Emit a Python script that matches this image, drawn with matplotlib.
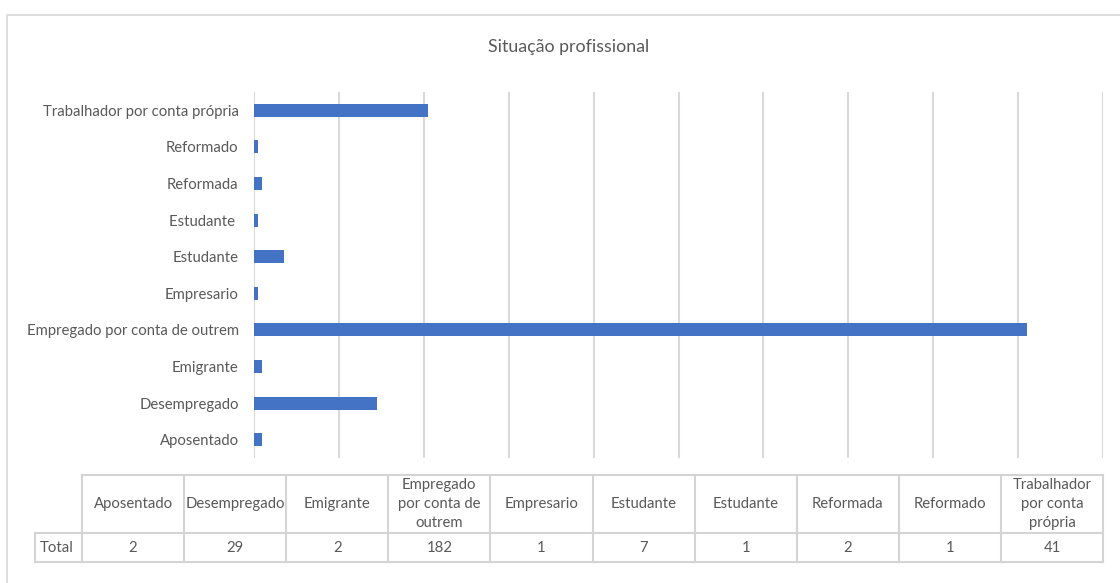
import numpy as np
import matplotlib
matplotlib.use("Agg")
import matplotlib.pyplot as plt
from matplotlib.patches import Rectangle
from matplotlib.lines import Line2D

# ---- Data ----
categories = ["Aposentado", "Desempregado", "Emigrante", "Empregado por conta de outrem",
              "Empresario", "Estudante", "Estudante ", "Reformada", "Reformado",
              "Trabalhador por conta própria"]
table_labels = ["Aposentado", "Desempregado", "Emigrante", "Empregado\npor conta de\noutrem",
                "Empresario", "Estudante", "Estudante", "Reformada", "Reformado",
                "Trabalhador\npor conta\nprópria"]
totals = [2, 29, 2, 182, 1, 7, 1, 2, 1, 41]
row_name = "Total"
title = "Situação profissional"
x_max = 200
x_step = 20

# ---- Style ----
plt.rcParams['font.family'] = ['Lato', 'DejaVu Sans']
text_col = "#595959"
bar_col = "#4472C4"
grid_col = "#D9D9D9"
fs = 10.7
W, H = 1120, 583

def fx(px):
    return px / W

def fy(py):
    return 1 - py / H

fig = plt.figure(figsize=(W / 100, H / 100), dpi=100)

# chart area border
fig.add_artist(Rectangle((fx(7), fy(590)), fx(1130) - fx(7), fy(15) - fy(590),
                         transform=fig.transFigure, fill=False, edgecolor="#D9D9D9", lw=1.2))

# ---- Bars ----
ax_l, ax_r, ax_t, ax_b = 254, 1103, 92, 458
ax = fig.add_axes([fx(ax_l), fy(ax_b), fx(ax_r) - fx(ax_l), fy(ax_t) - fy(ax_b)])
y = np.arange(len(categories))
ax.barh(y, totals, height=0.35, color=bar_col, zorder=3)
ax.set_xlim(0, x_max)
ax.set_ylim(-0.5, len(categories) - 0.5)
ax.set_xticks(np.arange(0, x_max + 1, x_step))
ax.xaxis.grid(True, color=grid_col, lw=1.5, zorder=0)
ax.tick_params(axis='x', length=0, labelbottom=False)
ax.set_yticks(y)
ax.set_yticklabels(categories, fontsize=fs, color=text_col)
ax.tick_params(axis='y', length=0, pad=11)
for s in ax.spines.values():
    s.set_visible(False)

fig.text(fx(569), fy(47), title, ha='center', va='center', fontsize=12.8, color=text_col)

# ---- Data table ----
t_left, t_right = 82, ax_r
name_left = 35
r_top, r_mid, r_bot = 475, 533, 562
edges = np.linspace(t_left, t_right, len(categories) + 1)
tcol = "#D4D4D4"

def hline(x0, x1, yy):
    fig.add_artist(Line2D([fx(x0), fx(x1)], [fy(yy), fy(yy)], color=tcol, lw=1.5,
                          transform=fig.transFigure))

def vline(xx, y0, y1):
    fig.add_artist(Line2D([fx(xx), fx(xx)], [fy(y0), fy(y1)], color=tcol, lw=1.5,
                          transform=fig.transFigure))

hline(t_left, t_right, r_top)
hline(name_left, t_right, r_mid)
hline(name_left, t_right, r_bot)
vline(name_left, r_mid, r_bot)
for e in edges:
    vline(e, r_top, r_bot)

for i in range(len(categories)):
    cx = (edges[i] + edges[i + 1]) / 2
    fig.text(fx(cx), fy((r_top + r_mid) / 2), table_labels[i], ha='center', va='center',
             fontsize=fs, color=text_col, linespacing=1.45)
    fig.text(fx(cx), fy((r_mid + r_bot) / 2), str(totals[i]), ha='center', va='center',
             fontsize=fs, color=text_col)
fig.text(fx(name_left + 5), fy((r_mid + r_bot) / 2), row_name, ha='left', va='center',
         fontsize=fs, color=text_col)

fig.savefig("out.png", dpi=100, facecolor="white")
